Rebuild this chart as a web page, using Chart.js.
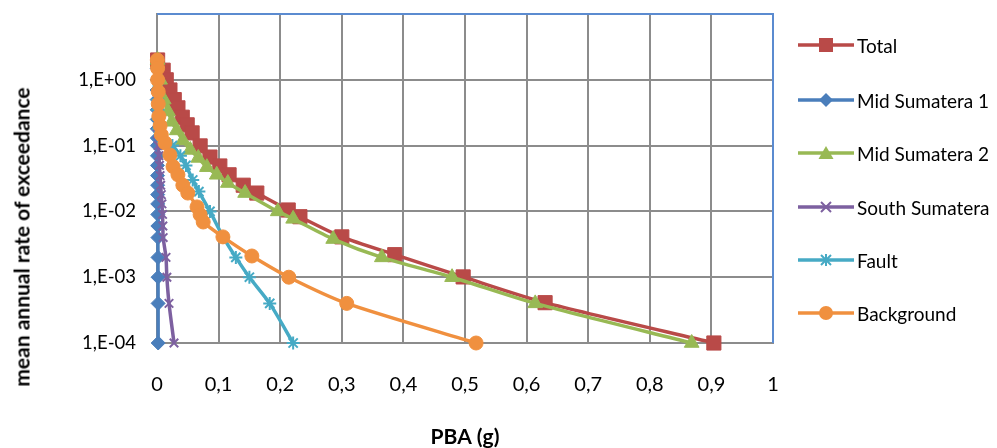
<!DOCTYPE html>
<html>
<head>
<meta charset="utf-8">
<script src="https://cdn.jsdelivr.net/npm/chart.js@4/dist/chart.umd.min.js"></script>
<style>
  html, body { margin: 0; padding: 0; background: #ffffff; }
  #wrap { position: relative; width: 997px; height: 448px; overflow: hidden; font-family: Lato, "Open Sans", sans-serif; }
  #c { position: absolute; left: 0; top: 0; }
  #ytitle { position: absolute; left: 21px; top: 237px; transform: translate(-50%, -50%) rotate(-90deg); white-space: nowrap; font-weight: bold; font-size: 21px; line-height: 1; color: #000; }
  .lg { position: absolute; left: 798px; height: 24px; display: flex; align-items: center; white-space: nowrap; font-size: 19px; color: #000; }
  .lg svg { margin-right: 3px; }
</style>
</head>
<body>
<div id="wrap">
  <canvas id="c" width="997" height="448"></canvas>
  <div id="ytitle">mean annual rate of exceedance</div>
  <div id="legend"></div>
</div>
<script>
// ---- data ----
const seriesNames = ["Total", "Mid Sumatera 1", "Mid Sumatera 2", "South Sumatera", "Fault", "Background"];

const totalX = [0.001, 0.010, 0.015, 0.021, 0.028, 0.034, 0.041, 0.049, 0.057, 0.070, 0.086, 0.102, 0.117, 0.140, 0.162, 0.213, 0.232, 0.300, 0.386, 0.497, 0.630, 0.904];
const totalY = [2.0, 1.4, 1.0, 0.70, 0.50, 0.375, 0.27, 0.207, 0.156, 0.099, 0.067, 0.049, 0.036, 0.025, 0.019, 0.0105, 0.0083, 0.0041, 0.0022, 0.00101, 0.00041, 0.0001];

const mid1X = [0.0001, 0.0001, 0.0002, 0.0002, 0.0003, 0.0003, 0.0004, 0.0005, 0.0005, 0.0006, 0.0007, 0.0008, 0.0009, 0.0010, 0.0011, 0.0012, 0.0013, 0.0014, 0.0015, 0.0016, 0.0017, 0.0018, 0.0019];
const mid1Y = [2.0, 1.5, 1.0, 0.70, 0.50, 0.35, 0.25, 0.18, 0.13, 0.10, 0.07, 0.05, 0.035, 0.025, 0.018, 0.013, 0.009, 0.006, 0.004, 0.002, 0.001, 0.0004, 0.0001];

const mid2X = [0.001, 0.005, 0.011, 0.018, 0.024, 0.032, 0.042, 0.054, 0.067, 0.081, 0.097, 0.115, 0.143, 0.196, 0.221, 0.286, 0.365, 0.479, 0.614, 0.868];
const mid2Y = [2.0, 1.0, 0.50, 0.33, 0.23, 0.17, 0.12, 0.086, 0.065, 0.047, 0.036, 0.027, 0.019, 0.010, 0.0077, 0.0038, 0.0020, 0.0010, 0.0004, 0.0001];

const southX = [0.001, 0.002, 0.003, 0.004, 0.005, 0.006, 0.007, 0.008, 0.009, 0.0095, 0.010, 0.0146, 0.016, 0.0195, 0.0276];
const southY = [0.15, 0.10, 0.07, 0.05, 0.035, 0.025, 0.018, 0.013, 0.009, 0.006, 0.004, 0.002, 0.001, 0.0004, 0.0001];

const faultX = [0.0003, 0.0004, 0.0005, 0.0007, 0.0010, 0.0013, 0.0017, 0.0025, 0.008, 0.025, 0.038, 0.047, 0.058, 0.068, 0.086, 0.108, 0.128, 0.150, 0.183, 0.221];
const faultY = [2.0, 1.5, 1.0, 0.70, 0.50, 0.35, 0.25, 0.18, 0.13, 0.10, 0.07, 0.05, 0.03, 0.02, 0.01, 0.004, 0.002, 0.001, 0.0004, 0.0001];

const backX = [0.0005, 0.001, 0.001, 0.002, 0.002, 0.003, 0.005, 0.007, 0.013, 0.021, 0.026, 0.034, 0.042, 0.050, 0.065, 0.070, 0.075, 0.107, 0.154, 0.214, 0.308, 0.518];
const backY = [2.0, 1.5, 1.0, 0.66, 0.43, 0.28, 0.20, 0.146, 0.11, 0.072, 0.048, 0.036, 0.025, 0.019, 0.0117, 0.0089, 0.0069, 0.0041, 0.0021, 0.0010, 0.0004, 0.0001];

const xTicks = [0, 0.1, 0.2, 0.3, 0.4, 0.5, 0.6, 0.7, 0.8, 0.9, 1];
const yTicks = [0.0001, 0.001, 0.01, 0.1, 1, 10];
const yTickLabels = ["1,E-04", "1,E-03", "1,E-02", "1,E-01", "1,E+00", ""];

// ---- styles ----
const colors = ["#B94A48", "#4A7EBB", "#98B954", "#7D60A0", "#46AAC5", "#F0903F"];
const pStyles = ["rect", "rectRot", "triangle", "crossRot", "star", "circle"];
const pRadius = [10, 7, 8.5, 6, 6.5, 7];
const orders = [5, 4, 3, 2, 1, 0];

const xs = [totalX, mid1X, mid2X, southX, faultX, backX];
const ys = [totalY, mid1Y, mid2Y, southY, faultY, backY];

const datasets = seriesNames.map((name, i) => ({
  label: name,
  data: xs[i].map((x, k) => ({ x: x, y: ys[i][k] })),
  borderColor: colors[i],
  backgroundColor: colors[i],
  pointBackgroundColor: colors[i],
  pointBorderColor: colors[i],
  pointBorderWidth: (pStyles[i] === "crossRot" || pStyles[i] === "star") ? 2 : 1,
  borderWidth: 3.5,
  pointStyle: pStyles[i],
  pointRadius: pRadius[i],
  pointHoverRadius: pRadius[i],
  tension: 0.25,
  showLine: true,
  clip: false,
  order: orders[i]
}));

const borderPlugin = {
  id: "plotBorder",
  beforeDatasetsDraw(chart) {
    const a = chart.chartArea, ctx = chart.ctx;
    ctx.save();
    ctx.strokeStyle = "#5B8BD0";
    ctx.lineWidth = 2;
    ctx.beginPath();
    ctx.moveTo(a.left, a.top);
    ctx.lineTo(a.right, a.top);
    ctx.lineTo(a.right, a.bottom);
    ctx.stroke();
    ctx.restore();
  }
};

new Chart(document.getElementById("c"), {
  type: "scatter",
  data: { datasets: datasets },
  plugins: [borderPlugin],
  options: {
    responsive: false,
    animation: false,
    layout: { padding: { left: 0, right: 224, top: 14, bottom: 0 } },
    plugins: { legend: { display: false }, tooltip: { enabled: false } },
    scales: {
      x: {
        type: "linear",
        min: 0, max: 1,
        afterBuildTicks: (s) => { s.ticks = xTicks.map(v => ({ value: v })); },
        afterFit: (s) => { s.height = 105; s.paddingLeft = 0; s.paddingRight = 0; },
        grid: { color: "#8C8C8C", lineWidth: 2, drawTicks: false },
        border: { color: "#8C8C8C", width: 2 },
        ticks: {
          padding: 30,
          color: "#000",
          font: { family: "Lato", size: 20 },
          maxRotation: 0,
          callback: (v) => String(Math.round(v * 10) / 10).replace(".", ",")
        },
        title: { display: true, text: "PBA (g)", color: "#000", font: { family: "Lato", size: 21, weight: "bold", lineHeight: 1 }, padding: { top: 0, bottom: 0 } }
      },
      y: {
        type: "logarithmic",
        min: 0.0001, max: 10,
        afterBuildTicks: (s) => { s.ticks = yTicks.map(v => ({ value: v })); },
        afterFit: (s) => { s.width = 157; s.paddingTop = 0; s.paddingBottom = 0; },
        grid: { color: "#8C8C8C", lineWidth: 2, drawTicks: false },
        border: { color: "#8C8C8C", width: 2 },
        ticks: {
          padding: 21,
          color: "#000",
          font: { family: "Lato", size: 18.5 },
          callback: (v) => { const i = yTicks.findIndex(t => Math.abs(t - v) / t < 1e-6); return i >= 0 ? yTickLabels[i] : ""; }
        }
      }
    }
  }
});

// ---- HTML legend ----
const legendY = [45, 100, 153, 207, 260, 313];
const legend = document.getElementById("legend");
function markerSvg(style, color) {
  const c = 28, m = 8;
  switch (style) {
    case "rect": return `<rect x="${c-7}" y="${m-7}" width="14" height="14" fill="${color}"/>`;
    case "rectRot": return `<polygon points="${c},${m-7} ${c+7},${m} ${c},${m+7} ${c-7},${m}" fill="${color}"/>`;
    case "triangle": return `<polygon points="${c},${m-7} ${c+7.5},${m+6} ${c-7.5},${m+6}" fill="${color}"/>`;
    case "crossRot": return `<path d="M${c-5} ${m-5}L${c+5} ${m+5}M${c+5} ${m-5}L${c-5} ${m+5}" stroke="${color}" stroke-width="2"/>`;
    case "star": return `<path d="M${c-5} ${m-5}L${c+5} ${m+5}M${c+5} ${m-5}L${c-5} ${m+5}M${c} ${m-6}L${c} ${m+6}" stroke="${color}" stroke-width="2"/>`;
    case "circle": return `<circle cx="${c}" cy="${m}" r="7" fill="${color}"/>`;
  }
  return "";
}
seriesNames.forEach((name, i) => {
  const d = document.createElement("div");
  d.className = "lg";
  d.style.top = (legendY[i] - 12) + "px";
  d.innerHTML = `<svg width="56" height="16" viewBox="0 0 56 16"><line x1="0" y1="8" x2="56" y2="8" stroke="${colors[i]}" stroke-width="3.5"/>${markerSvg(pStyles[i], colors[i])}</svg><span>${name}</span>`;
  legend.appendChild(d);
});
</script>
</body>
</html>
